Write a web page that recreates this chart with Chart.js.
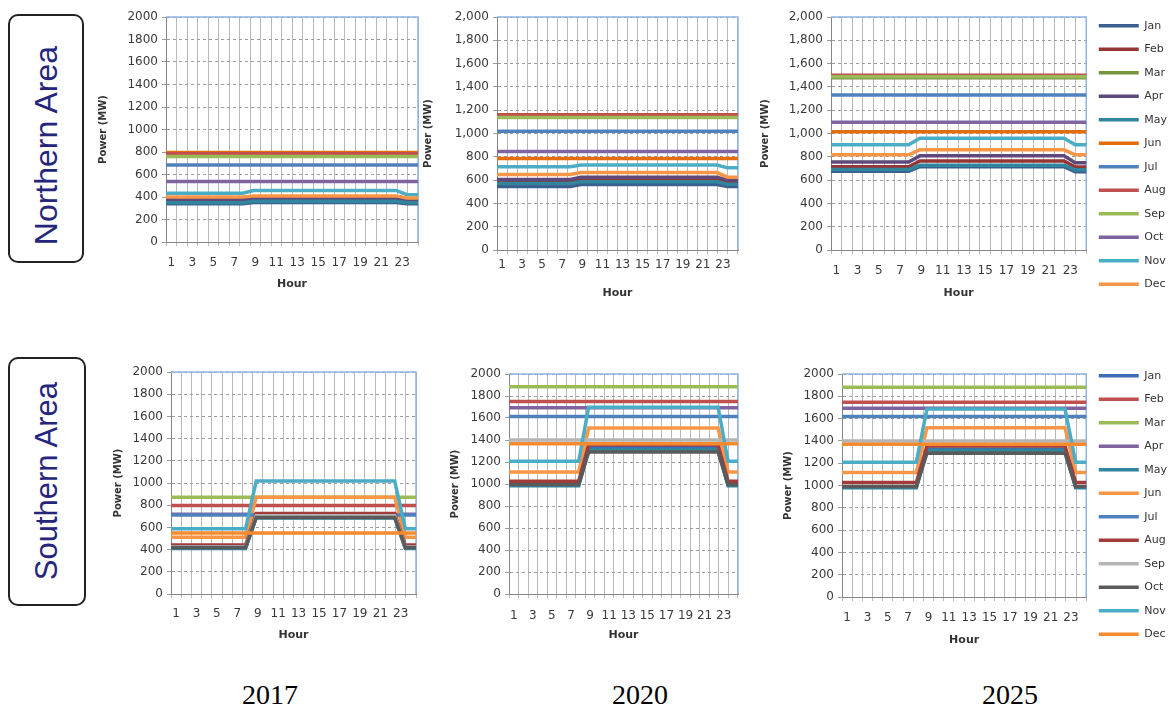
<!DOCTYPE html>
<html>
<head>
<meta charset="utf-8">
<script src="https://cdn.jsdelivr.net/npm/chart.js@4.4.1/dist/chart.umd.min.js"></script>
<style>
    body {
        margin: 0;
        background: #fff;
        width: 1171px;
        height: 711px;
        position: relative;
        overflow: hidden;
        font-family: "Liberation Sans", Arial, sans-serif;
    }
    .panel { position: absolute; }
    .area {
        position: absolute;
        border: 2px solid #222;
        border-radius: 10px;
        box-sizing: border-box;
        display: flex;
        align-items: center;
        justify-content: center;
    }
    .area span {
        writing-mode: vertical-rl;
        transform: rotate(180deg);
        color: #25257c;
        white-space: nowrap;
    }
    .year {
        position: absolute;
        font-family: "Liberation Serif", "Times New Roman", serif;
        font-size: 28px;
        color: #000;
        transform: translateX(-50%);
    }
</style>
</head>
<body>

<div class="area" style="left:8px; top:14px; width:76px; height:249px; padding-top:14px;"><span style="font-size:32px;">Northern Area</span></div>
<div class="area" style="left:8px; top:357px; width:78px; height:249px;"><span style="font-size:31px;">Southern Area</span></div>

<div class="panel" style="left:96px; top:0px; width:330px; height:310px;"><canvas id="n2017"></canvas></div>
<div class="panel" style="left:420px; top:0px; width:325px; height:310px;"><canvas id="n2020"></canvas></div>
<div class="panel" style="left:745px; top:0px; width:426px; height:310px;"><canvas id="n2025"></canvas></div>
<div class="panel" style="left:96px; top:355px; width:330px; height:300px;"><canvas id="s2017"></canvas></div>
<div class="panel" style="left:420px; top:355px; width:325px; height:300px;"><canvas id="s2020"></canvas></div>
<div class="panel" style="left:745px; top:355px; width:426px; height:300px;"><canvas id="s2025"></canvas></div>

<div class="year" style="left:270px; top:679px;">2017</div>
<div class="year" style="left:640px; top:679px;">2020</div>
<div class="year" style="left:1010px; top:679px;">2025</div>

<script>
// 横轴小时与月份
const hours = ['1','2','3','4','5','6','7','8','9','10','11','12','13','14','15','16','17','18','19','20','21','22','23','24'];
const months = ['Jan','Feb','Mar','Apr','May','Jun','Jul','Aug','Sep','Oct','Nov','Dec'];

// 北部地区 (MW), 每行一个月
const north2017 = [
    [340,340,340,340,340,340,340,340, 352,352,352,352,352,352,352,352,352,352,352,352,352,352, 340,340],
    [360,360,360,360,360,360,360,360, 372,372,372,372,372,372,372,372,372,372,372,372,372,372, 358,358],
    [770,770,770,770,770,770,770,770, 770,770,770,770,770,770,770,770, 770,770,770,770,770,770,770,770],
    [375,375,375,375,375,375,375,375, 388,388,388,388,388,388,388,388,388,388,388,388,388,388, 372,372],
    [350,350,350,350,350,350,350,350, 362,362,362,362,362,362,362,362,362,362,362,362,362,362, 350,350],
    [795,795,795,795,795,795,795,795, 795,795,795,795,795,795,795,795, 795,795,795,795,795,795,795,795],
    [685,685,685,685,685,685,685,685, 685,685,685,685,685,685,685,685, 685,685,685,685,685,685,685,685],
    [785,785,785,785,785,785,785,785, 785,785,785,785,785,785,785,785, 785,785,785,785,785,785,785,785],
    [760,760,760,760,760,760,760,760, 760,760,760,760,760,760,760,760, 760,760,760,760,760,760,760,760],
    [538,538,538,538,538,538,538,538, 538,538,538,538,538,538,538,538, 538,538,538,538,538,538,538,538],
    [434,434,434,434,434,434,434,434, 458,458,458,458,458,458,458,458,458,458,458,458,458,458, 420,420],
    [399,399,399,399,399,399,399,399, 410,410,410,410,410,410,410,410,410,410,410,410,410,410, 392,392]
];
const north2020 = [
    [545,545,545,545,545,545,545,545, 562,562,562,562,562,562,562,562,562,562,562,562,562,562, 545,545],
    [585,585,585,585,585,585,585,585, 600,600,600,600,600,600,600,600,600,600,600,600,600,600, 580,580],
    [1145,1145,1145,1145,1145,1145,1145,1145, 1145,1145,1145,1145,1145,1145,1145,1145, 1145,1145,1145,1145,1145,1145,1145,1145],
    [605,605,605,605,605,605,605,605, 625,625,625,625,625,625,625,625,625,625,625,625,625,625, 600,600],
    [570,570,570,570,570,570,570,570, 585,585,585,585,585,585,585,585,585,585,585,585,585,585, 565,565],
    [786,786,786,786,786,786,786,786, 786,786,786,786,786,786,786,786, 786,786,786,786,786,786,786,786],
    [1020,1020,1020,1020,1020,1020,1020,1020, 1020,1020,1020,1020,1020,1020,1020,1020, 1020,1020,1020,1020,1020,1020,1020,1020],
    [1160,1160,1160,1160,1160,1160,1160,1160, 1160,1160,1160,1160,1160,1160,1160,1160, 1160,1160,1160,1160,1160,1160,1160,1160],
    [1138,1138,1138,1138,1138,1138,1138,1138, 1138,1138,1138,1138,1138,1138,1138,1138, 1138,1138,1138,1138,1138,1138,1138,1138],
    [845,845,845,845,845,845,845,845, 845,845,845,845,845,845,845,845, 845,845,845,845,845,845,845,845],
    [714,714,714,714,714,714,714,714, 730,730,730,730,730,730,730,730,730,730,730,730,730,730, 705,705],
    [648,648,648,648,648,648,648,648, 665,665,665,665,665,665,665,665,665,665,665,665,665,665, 625,625]
];
const north2025 = [
    [675,675,675,675,675,675,675,675, 715,715,715,715,715,715,715,715,715,715,715,715,715,715, 672,672],
    [715,715,715,715,715,715,715,715, 765,765,765,765,765,765,765,765,765,765,765,765,765,765, 712,712],
    [1478,1478,1478,1478,1478,1478,1478,1478, 1478,1478,1478,1478,1478,1478,1478,1478, 1478,1478,1478,1478,1478,1478,1478,1478],
    [755,755,755,755,755,755,755,755, 808,808,808,808,808,808,808,808,808,808,808,808,808,808, 750,750],
    [690,690,690,690,690,690,690,690, 728,728,728,728,728,728,728,728,728,728,728,728,728,728, 688,688],
    [1015,1015,1015,1015,1015,1015,1015,1015, 1015,1015,1015,1015,1015,1015,1015,1015, 1015,1015,1015,1015,1015,1015,1015,1015],
    [1330,1330,1330,1330,1330,1330,1330,1330, 1330,1330,1330,1330,1330,1330,1330,1330, 1330,1330,1330,1330,1330,1330,1330,1330],
    [1500,1500,1500,1500,1500,1500,1500,1500, 1500,1500,1500,1500,1500,1500,1500,1500, 1500,1500,1500,1500,1500,1500,1500,1500],
    [1488,1488,1488,1488,1488,1488,1488,1488, 1488,1488,1488,1488,1488,1488,1488,1488, 1488,1488,1488,1488,1488,1488,1488,1488],
    [1097,1097,1097,1097,1097,1097,1097,1097, 1097,1097,1097,1097,1097,1097,1097,1097, 1097,1097,1097,1097,1097,1097,1097,1097],
    [903,903,903,903,903,903,903,903, 960,960,960,960,960,960,960,960,960,960,960,960,960,960, 903,903],
    [817,817,817,817,817,817,817,817, 860,860,860,860,860,860,860,860,860,860,860,860,860,860, 817,817]
];

// 南部地区 (MW)
const south2017 = [
    [415,415,415,415,415,415,415,415, 700,700,700,700,700,700,700,700,700,700,700,700,700,700, 415,415],
    [798,798,798,798,798,798,798,798, 798,798,798,798,798,798,798,798, 798,798,798,798,798,798,798,798],
    [871,871,871,871,871,871,871,871, 871,871,871,871,871,871,871,871, 871,871,871,871,871,871,871,871],
    [718,718,718,718,718,718,718,718, 718,718,718,718,718,718,718,718, 718,718,718,718,718,718,718,718],
    [411,411,411,411,411,411,411,411, 685,685,685,685,685,685,685,685,685,685,685,685,685,685, 411,411],
    [511,511,511,511,511,511,511,511, 871,871,871,871,871,871,871,871,871,871,871,871,871,871, 511,511],
    [712,712,712,712,712,712,712,712, 712,712,712,712,712,712,712,712, 712,712,712,712,712,712,712,712],
    [441,441,441,441,441,441,441,441, 725,725,725,725,725,725,725,725,725,725,725,725,725,725, 441,441],
    [425,425,425,425,425,425,425,425, 705,705,705,705,705,705,705,705,705,705,705,705,705,705, 425,425],
    [420,420,420,420,420,420,420,420, 690,690,690,690,690,690,690,690,690,690,690,690,690,690, 420,420],
    [587,587,587,587,587,587,587,587, 1018,1018,1018,1018,1018,1018,1018,1018,1018,1018,1018,1018,1018,1018, 587,587],
    [549,549,549,549,549,549,549,549, 549,549,549,549,549,549,549,549, 549,549,549,549,549,549,549,549]
];
const south2020 = [
    [990,990,990,990,990,990,990,990, 1330,1330,1330,1330,1330,1330,1330,1330,1330,1330,1330,1330,1330,1330, 990,990],
    [1750,1750,1750,1750,1750,1750,1750,1750, 1750,1750,1750,1750,1750,1750,1750,1750, 1750,1750,1750,1750,1750,1750,1750,1750],
    [1885,1885,1885,1885,1885,1885,1885,1885, 1885,1885,1885,1885,1885,1885,1885,1885, 1885,1885,1885,1885,1885,1885,1885,1885],
    [1693,1693,1693,1693,1693,1693,1693,1693, 1693,1693,1693,1693,1693,1693,1693,1693, 1693,1693,1693,1693,1693,1693,1693,1693],
    [985,985,985,985,985,985,985,985, 1310,1310,1310,1310,1310,1310,1310,1310,1310,1310,1310,1310,1310,1310, 985,985],
    [1110,1110,1110,1110,1110,1110,1110,1110, 1508,1508,1508,1508,1508,1508,1508,1508,1508,1508,1508,1508,1508,1508, 1110,1110],
    [1614,1614,1614,1614,1614,1614,1614,1614, 1614,1614,1614,1614,1614,1614,1614,1614, 1614,1614,1614,1614,1614,1614,1614,1614],
    [1025,1025,1025,1025,1025,1025,1025,1025, 1357,1357,1357,1357,1357,1357,1357,1357,1357,1357,1357,1357,1357,1357, 1025,1025],
    [1400,1400,1400,1400,1400,1400,1400,1400, 1400,1400,1400,1400,1400,1400,1400,1400, 1400,1400,1400,1400,1400,1400,1400,1400],
    [995,995,995,995,995,995,995,995, 1291,1291,1291,1291,1291,1291,1291,1291,1291,1291,1291,1291,1291,1291, 995,995],
    [1207,1207,1207,1207,1207,1207,1207,1207, 1698,1698,1698,1698,1698,1698,1698,1698,1698,1698,1698,1698,1698,1698, 1207,1207],
    [1366,1366,1366,1366,1366,1366,1366,1366, 1366,1366,1366,1366,1366,1366,1366,1366, 1366,1366,1366,1366,1366,1366,1366,1366]
];
const south2025 = [
    [985,985,985,985,985,985,985,985, 1325,1325,1325,1325,1325,1325,1325,1325,1325,1325,1325,1325,1325,1325, 985,985],
    [1746,1746,1746,1746,1746,1746,1746,1746, 1746,1746,1746,1746,1746,1746,1746,1746, 1746,1746,1746,1746,1746,1746,1746,1746],
    [1881,1881,1881,1881,1881,1881,1881,1881, 1881,1881,1881,1881,1881,1881,1881,1881, 1881,1881,1881,1881,1881,1881,1881,1881],
    [1693,1693,1693,1693,1693,1693,1693,1693, 1693,1693,1693,1693,1693,1693,1693,1693, 1693,1693,1693,1693,1693,1693,1693,1693],
    [980,980,980,980,980,980,980,980, 1315,1315,1315,1315,1315,1315,1315,1315,1315,1315,1315,1315,1315,1315, 980,980],
    [1116,1116,1116,1116,1116,1116,1116,1116, 1519,1519,1519,1519,1519,1519,1519,1519,1519,1519,1519,1519,1519,1519, 1116,1116],
    [1618,1618,1618,1618,1618,1618,1618,1618, 1618,1618,1618,1618,1618,1618,1618,1618, 1618,1618,1618,1618,1618,1618,1618,1618],
    [1027,1027,1027,1027,1027,1027,1027,1027, 1355,1355,1355,1355,1355,1355,1355,1355,1355,1355,1355,1355,1355,1355, 1027,1027],
    [1400,1400,1400,1400,1400,1400,1400,1400, 1400,1400,1400,1400,1400,1400,1400,1400, 1400,1400,1400,1400,1400,1400,1400,1400],
    [990,990,990,990,990,990,990,990, 1290,1290,1290,1290,1290,1290,1290,1290,1290,1290,1290,1290,1290,1290, 990,990],
    [1209,1209,1209,1209,1209,1209,1209,1209, 1685,1685,1685,1685,1685,1685,1685,1685,1685,1685,1685,1685,1685,1685, 1209,1209],
    [1370,1370,1370,1370,1370,1370,1370,1370, 1370,1370,1370,1370,1370,1370,1370,1370, 1370,1370,1370,1370,1370,1370,1370,1370]
];

const northColors = ['#3B5F8F','#943634','#77933C','#5F497A','#31859C','#E46C0A','#4F81BD','#C0504D','#9BBB59','#8064A2','#4BACC6','#F79646'];
const southColors = ['#3D6DB5','#C0504D','#9BBB59','#8064A2','#31859C','#F79646','#4F81BD','#A33B38','#B5B5B5','#5A5A5A','#4BACC6','#F58A2E'];

const tickFont = { family: 'DejaVu Sans', size: 12 };
const titleFont = { family: 'DejaVu Sans', size: 10, weight: 'bold' };
const hourFont = { family: 'DejaVu Sans', size: 11, weight: 'bold' };

// 绘图区上、右两侧的浅蓝色边框
const frameBorder = {
    id: 'frameBorder',
    beforeDatasetsDraw(chart) {
        const { ctx, chartArea: a } = chart;
        ctx.save();
        ctx.strokeStyle = '#8EB4E3';
        ctx.lineWidth = 1.5;
        ctx.beginPath();
        ctx.moveTo(a.left, a.top);
        ctx.lineTo(a.right, a.top);
        ctx.lineTo(a.right, a.bottom);
        ctx.stroke();
        ctx.restore();
    }
};

function buildDatasets(rows, palette) {
    return months.map((m, i) => ({
        label: m,
        data: rows[i],
        borderColor: palette[i],
        backgroundColor: palette[i],
        borderWidth: 3.5,
        pointRadius: 0,
        pointHoverRadius: 0,
        tension: 0,
        order: months.length - i
    }));
}

/**
 * 创建单个面板
 */
function createPanel(canvasId, rows, palette, cfg) {
    const ctx = document.getElementById(canvasId);
    if (!ctx) return null;

    return new Chart(ctx, {
        type: 'line',
        data: {
            labels: hours,
            datasets: buildDatasets(rows, palette)
        },
        options: {
            responsive: true,
            maintainAspectRatio: false,
            animation: false,
            layout: {
                padding: { top: 0, right: cfg.padRight, bottom: 0, left: 0 }
            },
            plugins: {
                tooltip: { enabled: false },
                legend: {
                    display: cfg.legend,
                    position: 'right',
                    labels: {
                        usePointStyle: true,
                        pointStyle: 'line',
                        pointStyleWidth: 40,
                        padding: 12.5,
                        color: '#333',
                        font: { family: 'DejaVu Sans', size: 11 },
                        sort: (a, b) => a.datasetIndex - b.datasetIndex
                    }
                }
            },
            scales: {
                // 顶部留白用的空轴
                xTop: {
                    type: 'category',
                    position: 'top',
                    grid: { display: false },
                    border: { display: false },
                    ticks: { display: false },
                    afterFit: (scale) => { scale.height = cfg.padTop; }
                },
                x: {
                    type: 'category',
                    offset: true,
                    grid: { offset: true, color: '#b8b8b8', tickLength: 4 },
                    border: { color: '#868686' },
                    ticks: {
                        autoSkip: false,
                        maxRotation: 0,
                        padding: cfg.xTickPad,
                        color: '#3a3a3a',
                        font: tickFont,
                        callback: function(v, i) {
                            return i % 2 === 0 ? this.getLabelForValue(v) : '';
                        }
                    },
                    title: {
                        display: true,
                        text: 'Hour',
                        color: '#333',
                        font: hourFont,
                        padding: { top: 0, bottom: cfg.hourPad }
                    },
                    afterFit: (scale) => { scale.height = cfg.xH; }
                },
                y: {
                    min: 0,
                    max: 2000,
                    grid: { color: '#9c9c9c', tickLength: 4 },
                    border: { color: '#868686', dash: [3, 3] },
                    ticks: {
                        stepSize: 200,
                        padding: 4,
                        color: '#3a3a3a',
                        font: tickFont,
                        callback: (v) => cfg.comma ? v.toLocaleString('en-US') : String(v)
                    },
                    title: {
                        display: true,
                        text: 'Power (MW)',
                        color: '#333',
                        font: titleFont,
                        padding: { top: cfg.yTitlePad, bottom: 0 }
                    },
                    afterFit: (scale) => { scale.width = cfg.yW; }
                }
            }
        },
        plugins: [frameBorder]
    });
}

createPanel('n2017', north2017, northColors, { padTop: 17, padRight: 8, xH: 68, yW: 70, xTickPad: 10, hourPad: 19, yTitlePad: 1, comma: false, legend: false });
createPanel('n2020', north2020, northColors, { padTop: 17, padRight: 7, xH: 60, yW: 77, xTickPad: 4, hourPad: 10, yTitlePad: 2, comma: true, legend: false });
createPanel('n2025', north2025, northColors, { padTop: 17, padRight: -6, xH: 60, yW: 86, xTickPad: 10, hourPad: 10, yTitlePad: 14, comma: true, legend: true });
createPanel('s2017', south2017, southColors, { padTop: 17, padRight: 10, xH: 61, yW: 75, xTickPad: 9, hourPad: 13, yTitlePad: 16, comma: false, legend: false });
createPanel('s2020', south2020, southColors, { padTop: 19, padRight: 7, xH: 61, yW: 89, xTickPad: 11, hourPad: 13, yTitlePad: 29, comma: false, legend: false });
createPanel('s2025', south2025, southColors, { padTop: 19, padRight: -6, xH: 58, yW: 97, xTickPad: 10, hourPad: 8, yTitlePad: 37, comma: false, legend: true });
</script>
</body>
</html>
